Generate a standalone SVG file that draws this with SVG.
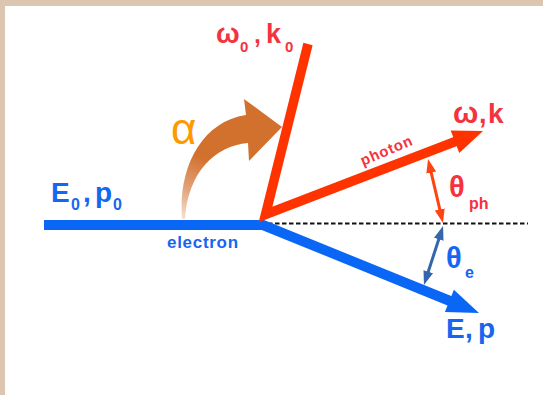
<svg xmlns="http://www.w3.org/2000/svg" width="543" height="395" viewBox="0 0 543 395">
<style>
.lbl{font-family:"Liberation Sans",Arial,sans-serif;font-weight:bold}
.red{fill:#f5333f}
.blue{fill:#1566f0}
</style>
<defs>
<linearGradient id="g" gradientUnits="userSpaceOnUse" x1="184" y1="219" x2="205" y2="158">
<stop offset="0" stop-color="#f6e0d0"/>
<stop offset="0.45" stop-color="#e2a47a"/>
<stop offset="1" stop-color="#d2702d"/>
</linearGradient>
<marker id="mo" viewBox="0 0 14 10" refX="8" refY="5" markerWidth="14" markerHeight="10" markerUnits="userSpaceOnUse" orient="auto-start-reverse">
<path d="M0,0 L14,5 L0,10 Z" fill="#ff4411"/>
</marker>
<marker id="mb" viewBox="0 0 14 10" refX="8" refY="5" markerWidth="14" markerHeight="10" markerUnits="userSpaceOnUse" orient="auto-start-reverse">
<path d="M0,0 L14,5 L0,10 Z" fill="#3366aa"/>
</marker>
</defs>
<rect x="0" y="0" width="543" height="395" fill="#dcc6b1"/>
<rect x="5" y="6" width="538" height="389" fill="#ffffff"/>
<g id="connectors">
<line x1="268" y1="223.5" x2="528" y2="223.5" stroke="#111" stroke-width="2" stroke-dasharray="4.5,2.5"/>
<g id="electron-path">
<polyline points="44,225 263,225 450,301" fill="none" stroke="#0a66f5" stroke-width="10" stroke-linejoin="miter"/>
<polygon points="479,313 444.9,312 453.9,289.8" fill="#0a66f5"/>
</g>
<g id="photon-path">
<polyline points="308,44 265.5,214.5 456,141.3" fill="none" stroke="#ff3300" stroke-width="9.5" stroke-linejoin="miter"/>
<polygon points="483,131 459.3,153 450.7,130.5" fill="#ff3300"/>
</g>
<line id="theta-ph-arrow" x1="429.4" y1="164.8" x2="441.6" y2="217.2" stroke="#ff4411" stroke-width="3" marker-start="url(#mo)" marker-end="url(#mo)"/>
<line id="theta-e-arrow" x1="441.2" y1="231.7" x2="425.8" y2="279.3" stroke="#3366aa" stroke-width="3" marker-start="url(#mb)" marker-end="url(#mb)"/>
<path id="alpha-arrow" d="M182,219 C178,170 200,122 246,115 L244,99 L282,127 L249,161 L248,143 C215,146 188,172 185,219 Z" fill="url(#g)"/>
</g>
<g id="label-E0p0" class="lbl blue">
<text x="51" y="202" font-size="28">E</text>
<text x="71" y="210" font-size="16">0</text>
<text x="83" y="202" font-size="28">,</text>
<text x="95" y="202" font-size="28">p</text>
<text x="113" y="210" font-size="16">0</text>
</g>
<g id="label-electron" class="lbl blue">
<text x="167" y="248" font-size="17" letter-spacing="0.7">electron</text>
</g>
<g id="label-w0k0" class="lbl red">
<text x="216" y="43" font-size="28">ω</text>
<text x="240" y="52" font-size="15">0</text>
<text x="254" y="43" font-size="25">,</text>
<text x="266" y="43" font-size="27">k</text>
<text x="285" y="52" font-size="15">0</text>
</g>
<g id="label-alpha">
<text x="171" y="144" font-size="44" font-family="Liberation Sans, Arial, sans-serif" fill="#ff9900">α</text>
</g>
<g id="label-photon" class="lbl red">
<text x="363" y="166" font-size="15" letter-spacing="0.8" transform="rotate(-23 363 166)">photon</text>
</g>
<g id="label-wk" class="lbl red">
<text x="453" y="123" font-size="30">ω</text>
<text x="479" y="123" font-size="27">,</text>
<text x="488" y="123" font-size="28">k</text>
</g>
<g id="label-theta-ph" class="lbl red">
<text x="449" y="197" font-size="29">θ</text>
<text x="469" y="209" font-size="16">ph</text>
</g>
<g id="label-theta-e" class="lbl blue">
<text x="446" y="268" font-size="29">θ</text>
<text x="465" y="278" font-size="16">e</text>
</g>
<g id="label-Ep" class="lbl blue">
<text x="446" y="338" font-size="28">E</text>
<text x="465" y="338" font-size="28">,</text>
<text x="478" y="338" font-size="28">p</text>
</g>
</svg>
